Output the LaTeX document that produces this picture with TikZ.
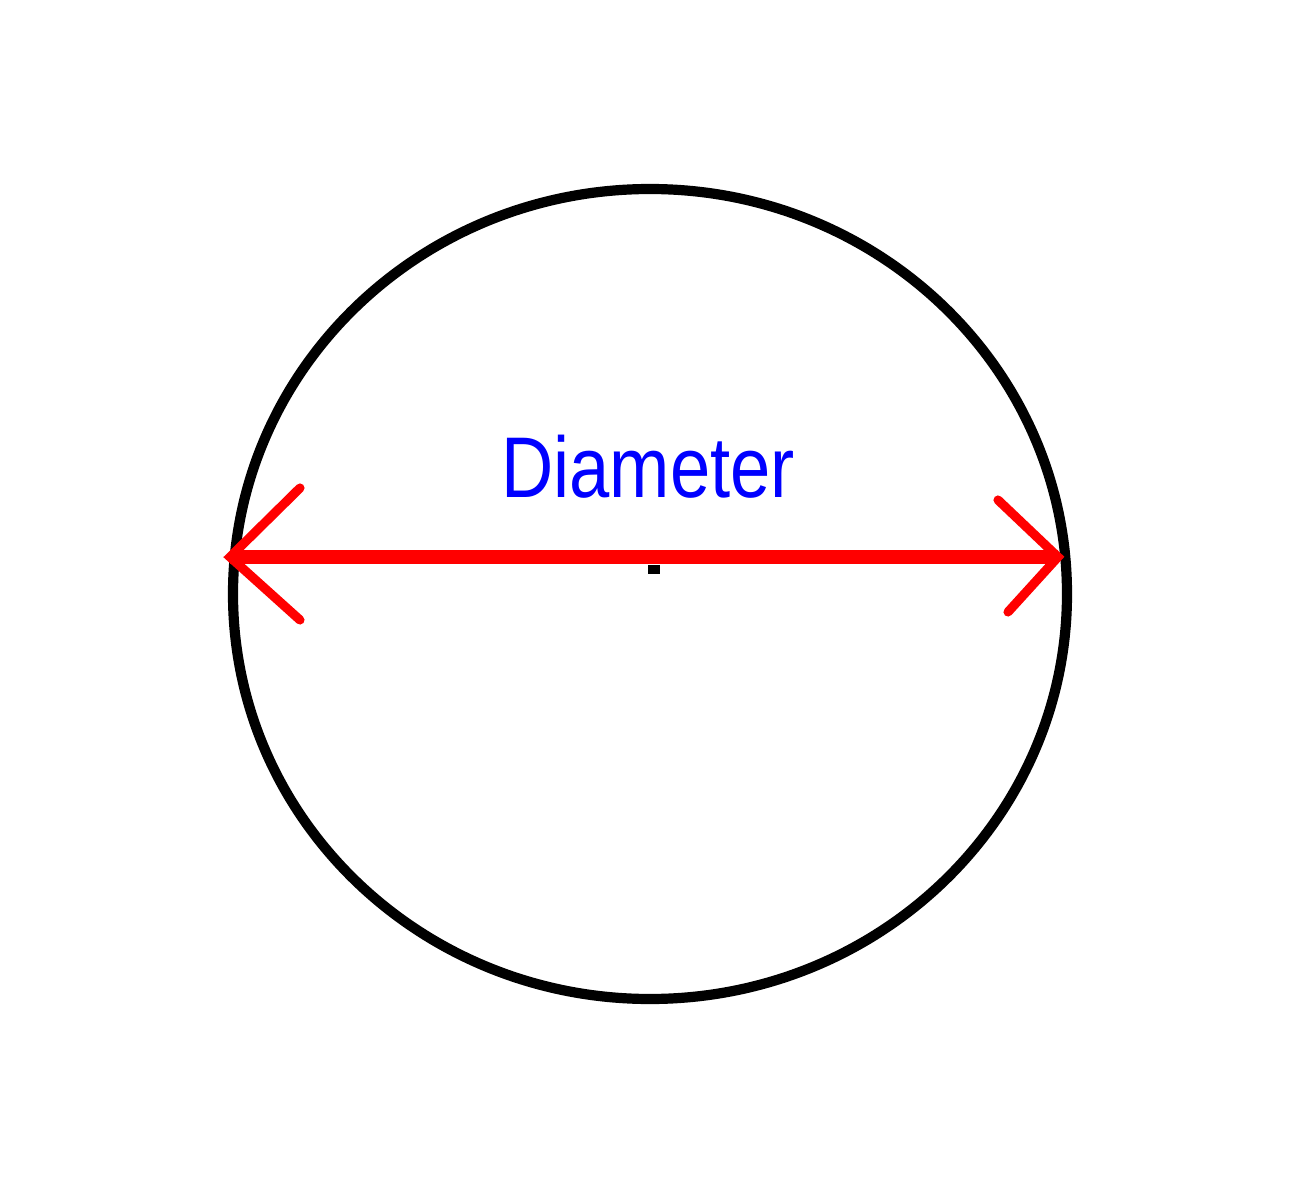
\documentclass[tikz,border=0pt]{standalone}
\usepackage{fontspec}
\setmainfont{Liberation Sans}
\begin{document}
\begin{tikzpicture}[x=0.01cm,y=-0.01cm,
  rim/.style={draw=black,line width=2.9pt},
  diam/.style={draw=red,line width=3.7pt},
  barb/.style={draw=red,line width=2.6pt,line cap=round},
  lbl/.style={text=blue,font=\fontsize{24.5}{26}\selectfont,inner sep=0pt,xscale=0.84}]
\useasboundingbox (0,0) rectangle (1299,1200);
\draw[rim] (650,594) ellipse [x radius=417, y radius=405];
\coordinate (L) at (230,557);
\coordinate (R) at (1058,557);
\draw[diam] (L) -- (R);
\draw[barb] (300,488) -- (L) -- (300,620);
\draw[barb] (998,500) -- (R) -- (1008,612);
\fill[black] (648,565) rectangle (660,574);
\node[lbl,anchor=base] (t) at (648,497) {Diameter};
\end{tikzpicture}
\end{document}
